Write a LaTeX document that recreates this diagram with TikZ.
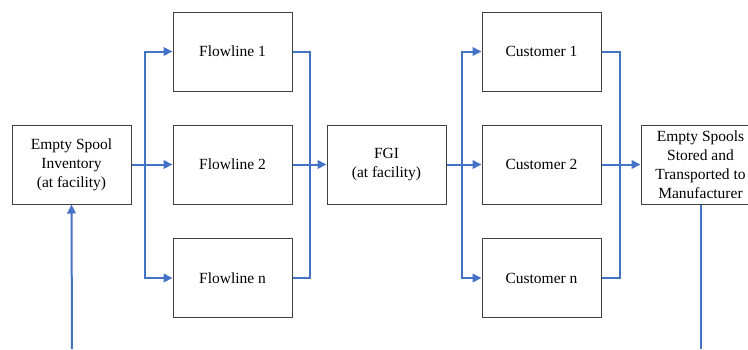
\documentclass[tikz,border=0pt]{standalone}
\usepackage{fontspec}
\setmainfont{Liberation Serif}
\newfontfamily\boxfont{Liberation Serif}
\usetikzlibrary{arrows.meta}
\definecolor{flowblue}{HTML}{4472C4}
\begin{document}
\begin{tikzpicture}[x=1pt,y=-1pt,
  box/.style={draw=black!75, line width=1pt, rectangle, minimum width=119pt, minimum height=79pt,
    inner sep=0pt, align=center, font=\boxfont\fontsize{15.5}{19}\selectfont},
  conn/.style={draw=flowblue, line width=2pt},
  arr/.style={conn, -{Triangle[length=9pt,width=8.5pt]}}]
\clip (0,0) rectangle (748,349);
\fill[white] (0,0) rectangle (748,349);
\node[box] (esi) at (71.5,164.5) {Empty Spool\\Inventory\\(at facility)};
\node[box] (fl1) at (232.5,51.5) {Flowline 1};
\node[box] (fl2) at (232.5,164.5) {Flowline 2};
\node[box] (fl3) at (232.5,278) {Flowline n};
\node[box] (fgi) at (386.5,164.5) {FGI\\(at facility)};
\node[box] (cu1) at (541.5,51.5) {Customer 1};
\node[box] (cu2) at (541.5,164.5) {Customer 2};
\node[box] (cu3) at (541.5,278) {Customer n};
\node[box] (ess) at (700.5,164.5) {Empty Spools\\Stored and\\Transported to\\Manufacturer};
\coordinate (b1) at (145,164.5);
\coordinate (m1) at (310,164.5);
\coordinate (b2) at (462,164.5);
\coordinate (m2) at (620,164.5);
\coordinate (inbot) at (72,349);
\coordinate (outbot) at (700.5,349);
% left fan-out
\draw[arr] (esi.east) -- (fl2.west);
\draw[arr] (b1) |- (fl1.west);
\draw[arr] (b1) |- (fl3.west);
% merge to FGI
\draw[conn] (fl1.east) -| (m1);
\draw[conn] (fl3.east) -| (m1);
\draw[arr] (fl2.east) -- (fgi.west);
% fan-out to customers
\draw[arr] (fgi.east) -- (cu2.west);
\draw[arr] (b2) |- (cu1.west);
\draw[arr] (b2) |- (cu3.west);
% merge to empty spools
\draw[conn] (cu1.east) -| (m2);
\draw[conn] (cu3.east) -| (m2);
\draw[arr] (cu2.east) -- (ess.west);
% return loop ends
\draw[conn] (ess.south) -- (outbot);
\draw[arr] (inbot) -- (esi.south);
\end{tikzpicture}
\end{document}
